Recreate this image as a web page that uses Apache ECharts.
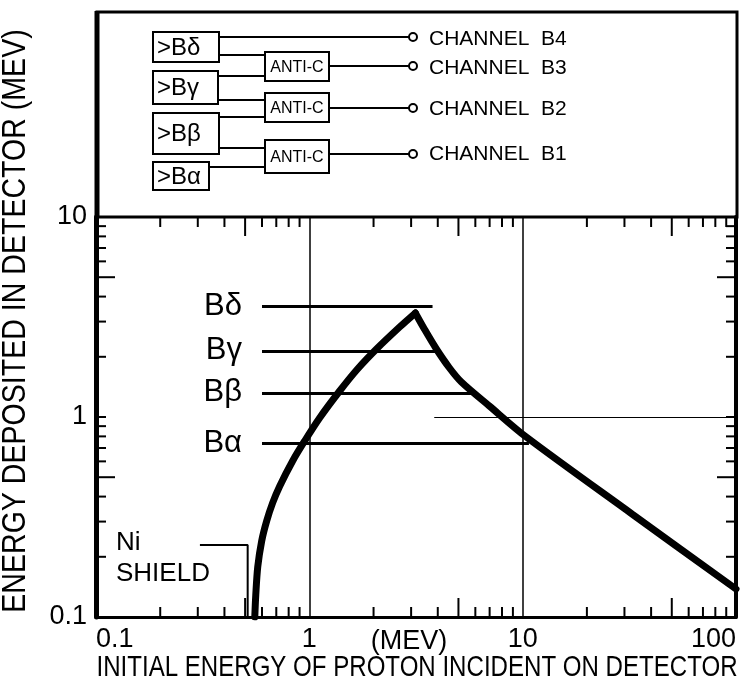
<!DOCTYPE html>
<html lang="en">
<head>
<meta charset="UTF-8">
<title>Proton channels B1-B4</title>
<style>
html, body { margin: 0; padding: 0; background: #fff; }
#main { width: 744px; height: 698px; }
</style>
</head>
<body>
<div id="main"></div>
<script src="https://cdn.jsdelivr.net/npm/echarts@6/dist/echarts.min.js"></script>
<script>
// response curve: deposited energy vs incident proton energy (MeV)
var curveEnergy  = [0.555, 0.561, 0.573, 0.598, 0.631, 0.673, 0.727, 0.835, 0.951, 1.117, 1.387, 1.683, 2.065, 2.65, 3.14,
                    3.46, 3.94, 4.54, 5.16, 6.98, 10.4, 32.6, 100];
var curveDeposit = [0.1, 0.129, 0.178, 0.240, 0.302, 0.372, 0.452, 0.603, 0.759, 0.989, 1.349, 1.738, 2.188, 2.818, 3.31,
                    2.754, 2.188, 1.758, 1.496, 1.135, 0.794, 0.327, 0.138];

// discriminator thresholds
var thresholdNames  = ['Bδ', 'Bγ', 'Bβ', 'Bα'];
var thresholdLevels = [3.59, 2.14, 1.32, 0.74];
var thresholdStart  = 0.6;
var thresholdEnds   = [3.78, 4.0, 5.9, 10.7];

// Ni shield pointer
var shieldEnergy  = [0.307, 0.514, 0.514];
var shieldDeposit = [0.229, 0.229, 0.1];

// axes
var xMin = 0.1, xMax = 100, yMin = 0.1, yMax = 10;
var xTickLabels = { 0.1: '0.1', 1: '1', 10: '10', 100: '100' };
var yTickLabels = { 0.1: '0.1', 1: '1', 10: '10' };
var xMinorTicks = [0.2, 0.3, 0.4, 0.5, 0.6, 0.7, 0.8, 0.9, 2, 3, 4, 5, 6, 7, 8, 9, 20, 30, 40, 50, 60, 70, 80, 90];
var yMinorTicks = [0.2, 0.3, 0.4, 0.5, 0.6, 0.7, 0.8, 0.9, 2, 3, 4, 5, 6, 7, 8, 9];
var xTitle = 'INITIAL ENERGY OF PROTON INCIDENT ON DETECTOR';
var yTitle = 'ENERGY DEPOSITED IN DETECTOR (MEV)';

// logic diagram
var gateNames    = ['>Bδ', '>Bγ', '>Bβ', '>Bα'];
var channelNames = ['CHANNEL  B4', 'CHANNEL  B3', 'CHANNEL  B2', 'CHANNEL  B1'];

var FONT = "'Liberation Sans', Arial, sans-serif";

var myChart = echarts.init(document.getElementById('main'), null, { renderer: 'canvas' });

function pairs(a, b) {
    return a.map(function (v, i) { return [v, b[i]]; });
}

function isFive(v) {
    var m = v / Math.pow(10, Math.floor(Math.log10(v) + 1e-9));
    return Math.abs(m - 5) < 1e-6;
}

// the curve has a sharp corner at its maximum: smooth each branch separately
var curvePoints = pairs(curveEnergy, curveDeposit);
var peakIndex = curveDeposit.indexOf(Math.max.apply(null, curveDeposit));
var risingBranch = curvePoints.slice(0, peakIndex + 1);
var fallingBranch = curvePoints.slice(peakIndex);

function xTickRender(params, api) {
    var v = api.value(0);
    var p0 = api.coord([v, yMin]), p1 = api.coord([v, yMax]);
    var len = isFive(v) ? 19 : 10;
    return {
        type: 'group',
        children: [
            { type: 'line', shape: { x1: p0[0], y1: p0[1], x2: p0[0], y2: p0[1] - len }, style: { stroke: '#000', lineWidth: 2 } },
            { type: 'line', shape: { x1: p1[0], y1: p1[1], x2: p1[0], y2: p1[1] + len }, style: { stroke: '#000', lineWidth: 2 } }
        ]
    };
}

function yTickRender(params, api) {
    var v = api.value(1);
    var p0 = api.coord([xMin, v]), p1 = api.coord([xMax, v]);
    var len = isFive(v) ? 19 : 10;
    return {
        type: 'group',
        children: [
            { type: 'line', shape: { x1: p0[0], y1: p0[1], x2: p0[0] + len, y2: p0[1] }, style: { stroke: '#000', lineWidth: 2 } },
            { type: 'line', shape: { x1: p1[0], y1: p1[1], x2: p1[0] - len, y2: p1[1] }, style: { stroke: '#000', lineWidth: 2 } }
        ]
    };
}

// ---- logic diagram in the top box (decoration, pixel layout) ----
var boxes = [
    { x: 153, y: 32, w: 66, h: 30 },
    { x: 153, y: 71, w: 65, h: 33 },
    { x: 153, y: 113, w: 66, h: 41 },
    { x: 153, y: 162, w: 56, h: 28 }
];
var antiBoxes = [
    { x: 265, y: 52, w: 64, h: 29 },
    { x: 265, y: 93, w: 64, h: 29 },
    { x: 265, y: 140, w: 64, h: 33 }
];
var wires = [
    [219, 37, 409, 37], [219, 55, 265, 55], [218, 76, 265, 76], [329, 66, 409, 66],
    [218, 100, 265, 100], [219, 117, 265, 117], [329, 108, 409, 108],
    [219, 148, 265, 148], [209, 167, 265, 167], [329, 154, 409, 154]
];
var outY = [37, 66, 108, 154];
var chanY = [39, 68, 109, 154];

var graphics = [];
graphics.push({ type: 'rect', shape: { x: 97, y: 12, width: 640, height: 205 }, style: { fill: 'none', stroke: '#000', lineWidth: 3 } });
graphics.push({ type: 'line', shape: { x1: 97, y1: 11, x2: 97, y2: 218 }, style: { stroke: '#000', lineWidth: 5 } });
boxes.forEach(function (b, i) {
    graphics.push({ type: 'rect', shape: { x: b.x, y: b.y, width: b.w, height: b.h }, style: { fill: '#fff', stroke: '#000', lineWidth: 2 } });
    graphics.push({ type: 'text', x: b.x + 4, y: b.y + b.h / 2 + 1, style: { text: gateNames[i], font: '24px ' + FONT, fill: '#000', textAlign: 'left', textVerticalAlign: 'middle' } });
});
antiBoxes.forEach(function (b) {
    graphics.push({ type: 'rect', shape: { x: b.x, y: b.y, width: b.w, height: b.h }, style: { fill: '#fff', stroke: '#000', lineWidth: 2 } });
    graphics.push({ type: 'text', x: b.x + b.w / 2, y: b.y + b.h / 2 + 1, style: { text: 'ANTI-C', font: '16px ' + FONT, fill: '#000', textAlign: 'center', textVerticalAlign: 'middle' } });
});
wires.forEach(function (w) {
    graphics.push({ type: 'line', shape: { x1: w[0], y1: w[1], x2: w[2], y2: w[3] }, style: { stroke: '#000', lineWidth: 2 } });
});
outY.forEach(function (y, i) {
    graphics.push({ type: 'circle', shape: { cx: 413, cy: y, r: 4 }, style: { fill: '#fff', stroke: '#000', lineWidth: 2 } });
    graphics.push({ type: 'text', x: 429, y: chanY[i], style: { text: channelNames[i], font: '21px ' + FONT, fill: '#000', textAlign: 'left', textVerticalAlign: 'middle' } });
});
// axis titles: condensed lettering, so squeeze along the text direction
graphics.push({ type: 'text', x: 16, y: 321, rotation: Math.PI / 2, scaleX: 0.84,
    style: { text: yTitle, font: '34px ' + FONT, fill: '#000', textAlign: 'center', textVerticalAlign: 'middle' } });
graphics.push({ type: 'text', x: 417, y: 668, scaleX: 0.83,
    style: { text: xTitle, font: '29px ' + FONT, fill: '#000', textAlign: 'center', textVerticalAlign: 'middle' } });
graphics.push({ type: 'text', x: 409, y: 642, style: { text: '(MEV)', font: '27px ' + FONT, fill: '#000', textAlign: 'center', textVerticalAlign: 'middle' } });
graphics.push({ type: 'text', x: 116, y: 543, style: { text: 'Ni', font: '26px ' + FONT, fill: '#000', textAlign: 'left', textVerticalAlign: 'middle' } });
graphics.push({ type: 'text', x: 116, y: 574, style: { text: 'SHIELD', font: '26px ' + FONT, fill: '#000', textAlign: 'left', textVerticalAlign: 'middle' } });

var option = {
    backgroundColor: '#fff',
    animation: false,
    grid: { left: 96, right: 8, top: 217, bottom: 81, containLabel: false, outerBoundsMode: 'none' },
    xAxis: [
        {
            type: 'log', logBase: 10, min: xMin, max: xMax, position: 'bottom',
            axisLine: { show: true, lineStyle: { color: '#000', width: 3 } },
            axisTick: { show: false },
            axisLabel: {
                fontSize: 27, fontFamily: FONT, color: '#000', margin: 9,
                alignMinLabel: 'left', alignMaxLabel: 'right',
                formatter: function (v) { return xTickLabels[v] || ''; }
            },
            splitLine: { show: true, lineStyle: { color: '#000', width: 1.5 } }
        },
        {
            type: 'log', logBase: 10, min: xMin, max: xMax, position: 'top',
            axisLine: { show: true, lineStyle: { color: '#000', width: 2 } },
            axisTick: { show: false }, axisLabel: { show: false }, splitLine: { show: false }
        }
    ],
    yAxis: [
        {
            type: 'log', logBase: 10, min: yMin, max: yMax, position: 'left',
            axisLine: { show: true, lineStyle: { color: '#000', width: 5 } },
            axisTick: { show: true, inside: true, length: 10, lineStyle: { color: '#000', width: 2 } },
            axisLabel: {
                fontSize: 27, fontFamily: FONT, color: '#000', margin: 9,
                formatter: function (v) { return yTickLabels[v] || ''; }
            },
            splitLine: { show: false }
        },
        {
            type: 'log', logBase: 10, min: yMin, max: yMax, position: 'right',
            axisLine: { show: true, lineStyle: { color: '#000', width: 4 } },
            axisTick: { show: true, inside: true, length: 10, lineStyle: { color: '#000', width: 2 } },
            axisLabel: { show: false }, splitLine: { show: false }
        }
    ],
    series: [
        {
            name: 'thresholds', type: 'line', data: [], silent: true,
            markLine: {
                symbol: 'none', silent: true, animation: false,
                lineStyle: { color: '#000', width: 3, type: 'solid' },
                label: { show: true, position: 'start', formatter: '{b}', fontSize: 31, fontFamily: FONT, color: '#000', distance: 20 },
                emphasis: { disabled: true },
                data: thresholdNames.map(function (n, i) {
                    return [{ name: n, coord: [thresholdStart, thresholdLevels[i]] }, { coord: [thresholdEnds[i], thresholdLevels[i]] }];
                })
            }
        },
        {
            name: 'grid 1 MeV', type: 'line', data: [], silent: true,
            markLine: {
                symbol: 'none', silent: true, animation: false,
                lineStyle: { color: '#000', width: 1.2, type: 'solid' },
                label: { show: false },
                data: [[{ coord: [3.85, 1] }, { coord: [xMax, 1] }]]
            }
        },
        {
            name: 'Ni shield', type: 'line', data: pairs(shieldEnergy, shieldDeposit),
            symbol: 'none', silent: true, lineStyle: { color: '#000', width: 2 }
        },
        {
            name: 'response rising', type: 'line', data: risingBranch,
            symbol: 'none', z: 5, silent: true, smooth: 0.3,
            lineStyle: { color: '#000', width: 7, cap: 'round' }
        },
        {
            name: 'response falling', type: 'line', data: fallingBranch,
            symbol: 'none', z: 5, silent: true, smooth: 0.3,
            lineStyle: { color: '#000', width: 7, cap: 'round' }
        },
        {
            name: 'x minor ticks', type: 'custom', data: xMinorTicks.map(function (v) { return [v, yMin]; }),
            renderItem: xTickRender, silent: true, clip: false, z: 6
        },
        {
            name: 'y minor ticks', type: 'custom', data: yMinorTicks.map(function (v) { return [xMin, v]; }),
            renderItem: yTickRender, silent: true, clip: false, z: 6
        }
    ],
    graphic: { elements: graphics }
};

myChart.setOption(option);
</script>
</body>
</html>
